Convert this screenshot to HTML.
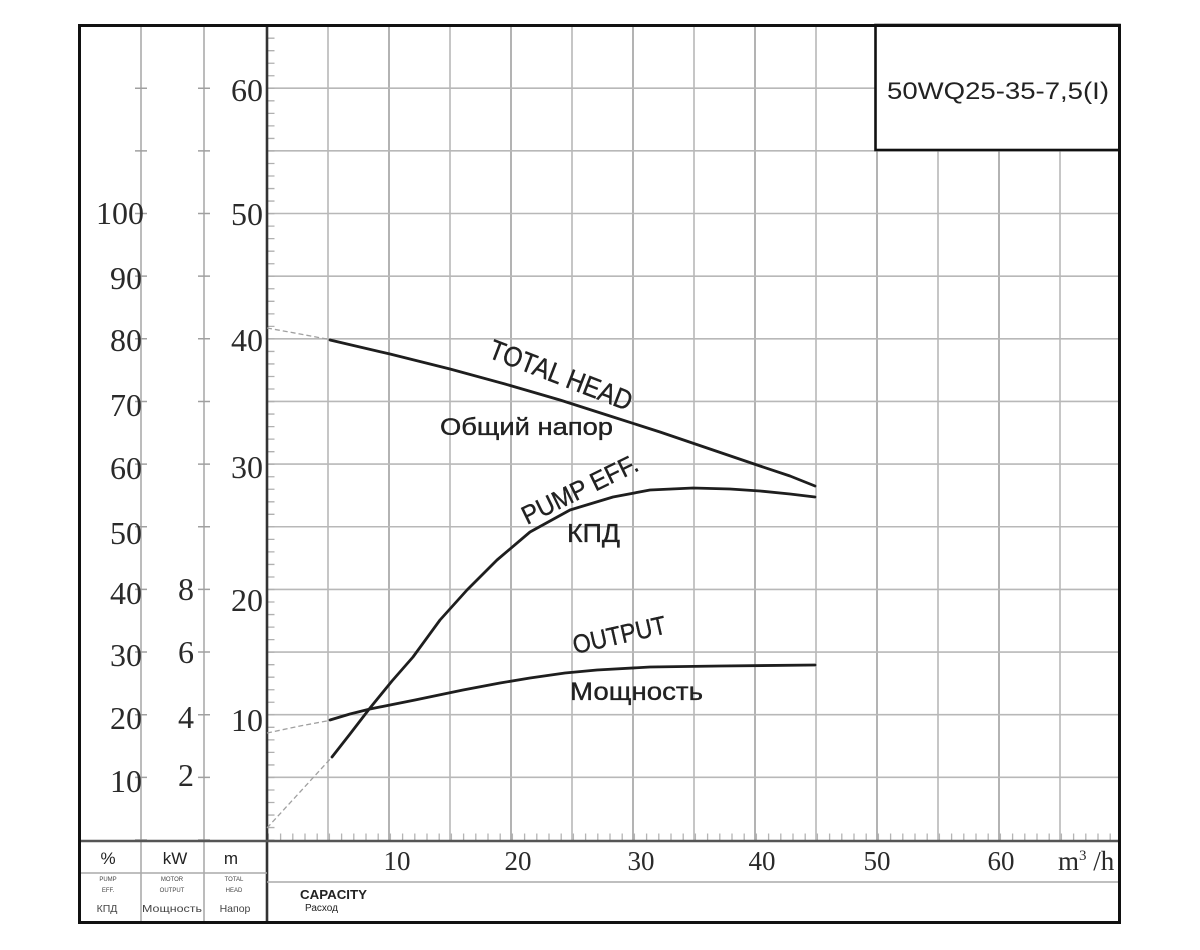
<!DOCTYPE html>
<html>
<head>
<meta charset="utf-8">
<style>
html,body{margin:0;padding:0;background:#fff;}
svg{display:block;}
.serif{font-family:"Liberation Serif","DejaVu Serif",serif;fill:#2a2a2a;}
.sans{font-family:"Liberation Sans","Noto Sans CJK SC",sans-serif;fill:#222;}
</style>
</head>
<body>
<svg width="1200" height="950" viewBox="0 0 1200 950" xmlns="http://www.w3.org/2000/svg">
<rect x="0" y="0" width="1200" height="950" fill="#fff"/>

<!-- vertical grid lines -->
<g stroke="#b8b8b8" stroke-width="1.6">
<line x1="328" y1="25" x2="328" y2="841"/>
<line x1="389" y1="25" x2="389" y2="841" stroke="#a0a0a0"/>
<line x1="450" y1="25" x2="450" y2="841"/>
<line x1="511" y1="25" x2="511" y2="841" stroke="#a0a0a0"/>
<line x1="572" y1="25" x2="572" y2="841"/>
<line x1="633" y1="25" x2="633" y2="841" stroke="#a0a0a0"/>
<line x1="694" y1="25" x2="694" y2="841"/>
<line x1="755" y1="25" x2="755" y2="841" stroke="#a0a0a0"/>
<line x1="816" y1="25" x2="816" y2="841"/>
<line x1="877" y1="25" x2="877" y2="841" stroke="#a0a0a0"/>
<line x1="938" y1="25" x2="938" y2="841"/>
<line x1="999" y1="25" x2="999" y2="841" stroke="#a0a0a0"/>
<line x1="1060" y1="25" x2="1060" y2="841"/>
</g>
<!-- horizontal grid lines -->
<g stroke="#b8b8b8" stroke-width="1.6">
<line x1="267" y1="777.35" x2="1120" y2="777.35"/>
<line x1="267" y1="714.7" x2="1120" y2="714.7"/>
<line x1="267" y1="652.05" x2="1120" y2="652.05"/>
<line x1="267" y1="589.4" x2="1120" y2="589.4"/>
<line x1="267" y1="526.75" x2="1120" y2="526.75"/>
<line x1="267" y1="464.1" x2="1120" y2="464.1"/>
<line x1="267" y1="401.45" x2="1120" y2="401.45"/>
<line x1="267" y1="338.8" x2="1120" y2="338.8"/>
<line x1="267" y1="276.15" x2="1120" y2="276.15"/>
<line x1="267" y1="213.5" x2="1120" y2="213.5"/>
<line x1="267" y1="150.85" x2="1120" y2="150.85"/>
<line x1="267" y1="88.2" x2="1120" y2="88.2"/>
</g>

<!-- left column lines -->
<g stroke="#ababab" stroke-width="1.6">
<line x1="141" y1="25" x2="141" y2="922"/>
<line x1="204" y1="25" x2="204" y2="922"/>
</g>
<!-- left column ticks every 5 m -->
<path d="M141 840.75 V80" stroke="#a0a0a0" stroke-width="12" stroke-dasharray="1.5 61.15" fill="none"/>
<path d="M204 840.75 V80" stroke="#a0a0a0" stroke-width="12" stroke-dasharray="1.5 61.15" fill="none"/>

<!-- main axis minor ticks -->
<path d="M271 840.75 V26" stroke="#b0b0b0" stroke-width="7" stroke-dasharray="1.3 11.23" fill="none"/>
<!-- x axis minor ticks -->
<path d="M267.75 837 H1118" stroke="#b4b4b4" stroke-width="7" stroke-dasharray="1.3 10.9" fill="none"/>

<!-- main axis -->
<line x1="267" y1="25" x2="267" y2="922" stroke="#333" stroke-width="2.6"/>
<!-- x axis line -->
<line x1="79" y1="841" x2="1120" y2="841" stroke="#555" stroke-width="2.4"/>
<!-- bottom sublines -->
<line x1="267" y1="882" x2="1120" y2="882" stroke="#aaa" stroke-width="1.6"/>
<line x1="79" y1="873" x2="267" y2="873" stroke="#aaa" stroke-width="1.4"/>

<!-- title box -->
<rect x="875.5" y="25" width="244" height="125" fill="#fff" stroke="#111" stroke-width="2.6"/>
<text x="887" y="99" class="sans" font-size="24" textLength="222" lengthAdjust="spacingAndGlyphs">50WQ25-35-7,5(I)</text>

<!-- outer border -->
<rect x="79.5" y="25.5" width="1040" height="897" fill="none" stroke="#111" stroke-width="3"/>

<!-- left axis labels: % -->
<g class="serif" font-size="32" text-anchor="end">
<text x="144" y="224">100</text>
<text x="142" y="289">90</text>
<text x="142" y="351">80</text>
<text x="142" y="416">70</text>
<text x="142" y="479">60</text>
<text x="142" y="544">50</text>
<text x="142" y="604">40</text>
<text x="142" y="666">30</text>
<text x="142" y="729">20</text>
<text x="142" y="792">10</text>
</g>
<!-- kW -->
<g class="serif" font-size="32" text-anchor="end">
<text x="194" y="600">8</text>
<text x="194" y="663">6</text>
<text x="194" y="728">4</text>
<text x="194" y="786">2</text>
</g>
<!-- m -->
<g class="serif" font-size="32" text-anchor="end">
<text x="263" y="101">60</text>
<text x="263" y="225">50</text>
<text x="263" y="351">40</text>
<text x="263" y="478">30</text>
<text x="263" y="611">20</text>
<text x="263" y="731">10</text>
</g>

<!-- x axis labels -->
<g class="serif" font-size="27" text-anchor="middle">
<text x="397" y="870">10</text>
<text x="518" y="870">20</text>
<text x="641" y="870">30</text>
<text x="762" y="870">40</text>
<text x="877" y="870">50</text>
<text x="1001" y="870">60</text>
</g>
<text x="1058" y="870" class="serif" font-size="27">m<tspan font-size="15" dy="-10">3</tspan><tspan dy="10"> /h</tspan></text>
<!-- re-draw right border over clipped text -->
<rect x="1121" y="840" width="20" height="40" fill="#fff"/>
<line x1="1119.5" y1="25" x2="1119.5" y2="923" stroke="#111" stroke-width="3"/>

<!-- bottom-left header -->
<g class="sans" text-anchor="middle">
<text x="108" y="864" font-size="17">%</text>
<text x="175" y="864" font-size="17">kW</text>
<text x="231" y="864" font-size="17">m</text>
<g font-size="6" fill="#444">
<text x="108" y="881">PUMP</text>
<text x="108" y="892">EFF.</text>
<text x="172" y="881">MOTOR</text>
<text x="172" y="892">OUTPUT</text>
<text x="234" y="881">TOTAL</text>
<text x="234" y="892">HEAD</text>
</g>
<g font-size="10.5" fill="#444">
<text x="107" y="912">КПД</text>
<text x="172" y="912" textLength="60" lengthAdjust="spacingAndGlyphs">Мощность</text>
<text x="235" y="912">Напор</text>
</g>
</g>
<text x="300" y="899" class="sans" font-size="13" font-weight="bold" textLength="67" lengthAdjust="spacingAndGlyphs" fill="#333">CAPACITY</text>
<text x="305" y="911" class="sans" font-size="10" fill="#555">Расход</text>

<!-- dashed extensions -->
<g stroke="#a0a0a0" stroke-width="1.3" fill="none" stroke-dasharray="5 3">
<polyline points="267,328 300,334 332,340"/>
<polyline points="267,828 300,792 332,757"/>
<polyline points="267,733 300,726 332,720"/>
</g>

<!-- curves -->
<g stroke="#1e1e1e" stroke-width="2.8" fill="none" stroke-linejoin="round" stroke-linecap="round">
<polyline points="330,340 390,354 450,369 505,384 560,400 610,416 660,432 710,449 760,466 790,476 815,486"/>
<polyline points="332,757 350,734 370,708 392,681 413,657 440,620 467,590 497,560 530,532 570,510 613,497 650,490 693,488 730,489 760,491 790,494 815,497"/>
<polyline points="330,720 350,714 370,709 415,700 463,690 500,683 530,678 565,673 597,670 650,667 720,666 815,665"/>
</g>

<!-- curve labels -->
<g class="sans" fill="#1a1a1a" stroke="#1a1a1a" stroke-width="0.35">
<text transform="translate(487,357) rotate(21)" font-size="28" textLength="151" lengthAdjust="spacingAndGlyphs">TOTAL HEAD</text>
<text x="440" y="435" font-size="24" textLength="173" lengthAdjust="spacingAndGlyphs">Общий напор</text>
<text transform="translate(527,525) rotate(-26)" font-size="26" textLength="126" lengthAdjust="spacingAndGlyphs">PUMP EFF.</text>
<text x="567" y="542" font-size="26" textLength="53" lengthAdjust="spacingAndGlyphs">КПД</text>
<text transform="translate(575,654) rotate(-12.7)" font-size="26" textLength="95" lengthAdjust="spacingAndGlyphs">OUTPUT</text>
<text x="570" y="700" font-size="25" textLength="133" lengthAdjust="spacingAndGlyphs">Мощность</text>
</g>
</svg>
</body>
</html>
